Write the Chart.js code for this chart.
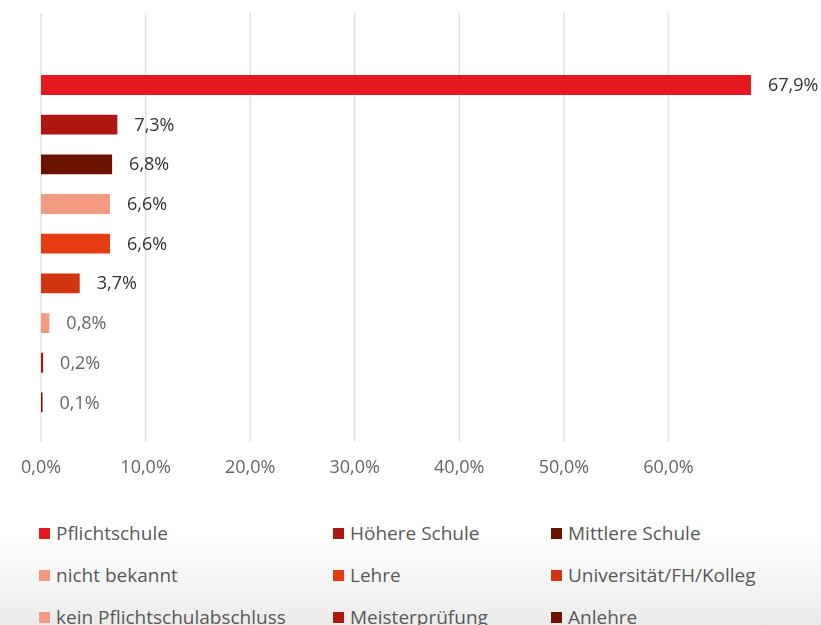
<!DOCTYPE html>
<html>
<head>
<meta charset="utf-8">
<script src="https://cdn.jsdelivr.net/npm/chart.js@4"></script>
<style>
    html, body {
        margin: 0;
        padding: 0;
    }
    body {
        width: 821px;
        height: 625px;
        overflow: hidden;
        position: relative;
        background: linear-gradient(to bottom, #ffffff 0%, #ffffff 86%, #ebebeb 100%);
        font-family: "Open Sans", sans-serif;
    }
    #wrap {
        position: absolute;
        left: 0;
        top: 0;
        width: 821px;
        height: 509px;
    }
    #legend {
        position: absolute;
        left: 39px;
        top: 512px;
        display: grid;
        grid-template-columns: 294px 218px 270px;
        grid-auto-rows: 42px;
        color: #595959;
        font-size: 19px;
    }
    .item {
        display: flex;
        align-items: center;
        white-space: nowrap;
    }
    .box {
        width: 11px;
        height: 11px;
        margin-right: 6px;
        flex: none;
    }
</style>
</head>
<body>
<div id="wrap"><canvas id="chart"></canvas></div>
<div id="legend"></div>
<script>
// Categories (one series each, as in the original)
const categories = [
    "Pflichtschule",
    "Höhere Schule",
    "Mittlere Schule",
    "nicht bekannt",
    "Lehre",
    "Universität/FH/Kolleg",
    "kein Pflichtschulabschluss",
    "Meisterprüfung",
    "Anlehre"
];
// Share in percent
const shares = [67.9, 7.3, 6.8, 6.6, 6.6, 3.7, 0.8, 0.2, 0.1];
const colors = ["#e3191f", "#ae1611", "#6b1200", "#f29b80", "#e63c12", "#d23512", "#f29b80", "#ae1611", "#6b1200"];
const labelColors = ["#333333", "#333333", "#333333", "#333333", "#333333", "#333333", "#666666", "#666666", "#666666"];
const axisMax = 70;

const fmt = v => v.toFixed(1).replace(".", ",") + "%";

// Value labels right of each bar
const valueLabels = {
    id: "valueLabels",
    afterDatasetsDraw(chart) {
        const ctx = chart.ctx;
        ctx.save();
        ctx.font = "18px 'Open Sans', sans-serif";
        ctx.textBaseline = "middle";
        ctx.textAlign = "left";
        chart.data.datasets.forEach((ds, i) => {
            const el = chart.getDatasetMeta(i).data[0];
            ctx.fillStyle = labelColors[i];
            ctx.fillText(fmt(ds.data[0]), Math.max(el.x, el.base + 1) + 17, el.y + 1);
        });
        ctx.restore();
    }
};

// Vertical gridlines, reaching a little higher than the plot area
const gridLines = {
    id: "gridLines",
    beforeDatasetsDraw(chart) {
        const ctx = chart.ctx;
        const x = chart.scales.x;
        ctx.save();
        ctx.strokeStyle = "#e0e0e0";
        ctx.lineWidth = 1.5;
        x.ticks.forEach(t => {
            const px = x.getPixelForValue(t.value);
            ctx.beginPath();
            ctx.moveTo(px, 13);
            ctx.lineTo(px, chart.chartArea.bottom);
            ctx.stroke();
        });
        ctx.restore();
    }
};

const ctx = document.getElementById("chart").getContext("2d");
new Chart(ctx, {
    type: "bar",
    data: {
        labels: [""],
        datasets: categories.map((c, i) => ({
            label: c,
            data: [shares[i]],
            backgroundColor: colors[i],
            borderWidth: 0,
            minBarLength: 1.5,
            categoryPercentage: 0.903,
            barPercentage: 0.5
        }))
    },
    options: {
        indexAxis: "y",
        responsive: true,
        maintainAspectRatio: false,
        animation: false,
        layout: {
            padding: { left: 41, right: 48, top: 46, bottom: 14 }
        },
        plugins: {
            legend: { display: false },
            tooltip: { enabled: false }
        },
        scales: {
            y: { display: false },
            x: {
                min: 0,
                max: axisMax,
                border: { display: false },
                afterBuildTicks: axis => {
                    axis.ticks = axis.ticks.filter(t => t.value < axisMax);
                },
                grid: {
                    display: false,
                    drawTicks: false
                },
                ticks: {
                    stepSize: 10,
                    padding: 16,
                    color: "#666666",
                    font: { family: "'Open Sans', sans-serif", size: 18 },
                    callback: v => fmt(v)
                }
            }
        }
    },
    plugins: [gridLines, valueLabels]
});

// Legend in three columns
const legend = document.getElementById("legend");
categories.forEach((c, i) => {
    const item = document.createElement("div");
    item.className = "item";
    const box = document.createElement("span");
    box.className = "box";
    box.style.background = colors[i];
    const text = document.createElement("span");
    text.textContent = c;
    item.appendChild(box);
    item.appendChild(text);
    legend.appendChild(item);
});
</script>
</body>
</html>
